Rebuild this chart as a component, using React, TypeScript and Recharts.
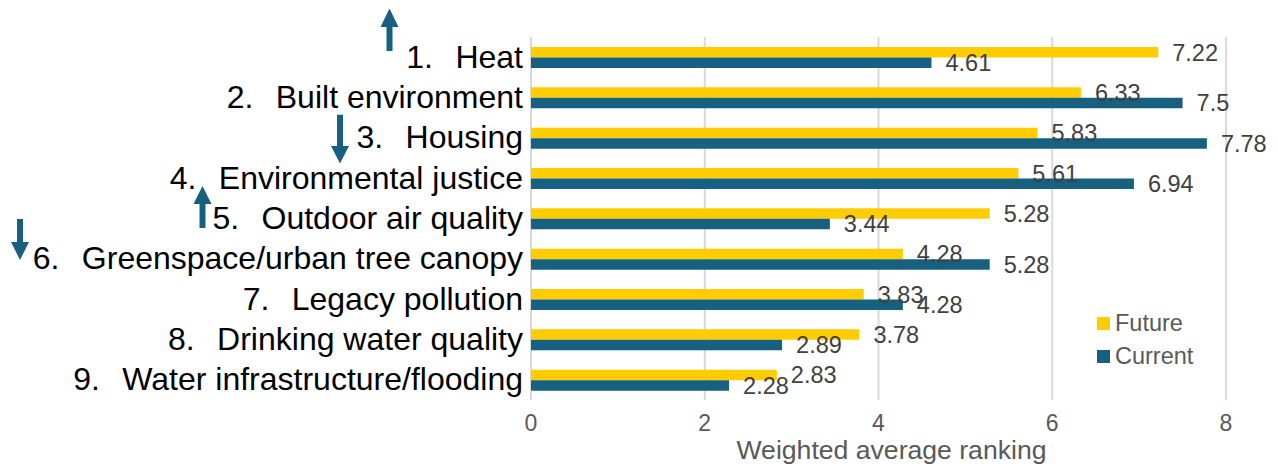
import React from "react";
import { BarChart, Bar, XAxis, YAxis, CartesianGrid, LabelList, Legend } from "recharts";

const categories = [
  "Heat",
  "Built environment",
  "Housing",
  "Environmental justice",
  "Outdoor air quality",
  "Greenspace/urban tree canopy",
  "Legacy pollution",
  "Drinking water quality",
  "Water infrastructure/flooding",
];
const futureValues = [7.22, 6.33, 5.83, 5.61, 5.28, 4.28, 3.83, 3.78, 2.83];
const currentValues = [4.61, 7.5, 7.78, 6.94, 3.44, 5.28, 4.28, 2.89, 2.28];
const xTicks = [0, 2, 4, 6, 8];
const seriesOrder = ["Future", "Current"];

const data = categories.map((name, i) => ({
  name: `${i + 1}.\u2002\u2009${name}`,
  Future: futureValues[i],
  Current: currentValues[i],
}));

const FONT = "'Liberation Sans', Arial, sans-serif";
const YELLOW = "#FFCC00";
const BLUE = "#17607F";

const YTick = (props: any) => {
  const { x, y, payload } = props;
  return (
    <text x={x} y={y} dy={2} textAnchor="end" dominantBaseline="middle" fontSize={32} fill="#000" fontFamily={FONT}>
      {payload.value}
    </text>
  );
};

const LegendContent = (props: any) => {
  const items = [...(props.payload || [])].sort(
    (a: any, b: any) => seriesOrder.indexOf(a.value) - seriesOrder.indexOf(b.value)
  );
  return (
    <div style={{ fontFamily: FONT }}>
      {items.map((it: any) => (
        <div key={it.value} style={{ display: "flex", alignItems: "center", height: 33 }}>
          <div style={{ width: 13, height: 13, background: it.color, marginRight: 5 }} />
          <span style={{ fontSize: 23.5, color: "#595959" }}>{it.value}</span>
        </div>
      ))}
    </div>
  );
};

const arrowPts = (cx: number, tip: number, base: number, end: number) => {
  return [
    [cx, tip],
    [cx + 9, base],
    [cx + 3, base],
    [cx + 3, end],
    [cx - 3, end],
    [cx - 3, base],
    [cx - 9, base],
  ]
    .map((p) => p.join(","))
    .join(" ");
};

export default function App() {
  return (
    <div style={{ position: "absolute", left: 0, top: 0, width: 1278, height: 466, background: "#fff" }}>
      <BarChart
        width={1278}
        height={466}
        data={data}
        layout="vertical"
        margin={{ top: 37, right: 52, bottom: 6, left: 0 }}
        barGap={0}
        barSize={10.5}
        style={{ fontFamily: FONT }}
      >
        <CartesianGrid horizontal={false} vertical={true} stroke="#d9d9d9" strokeWidth={2} />
        <XAxis
          type="number"
          domain={[0, 8]}
          ticks={xTicks}
          axisLine={false}
          tickLine={false}
          height={60}
          tickMargin={9}
          tick={{ fontSize: 23, fill: "#595959", fontFamily: FONT }}
          label={{
            value: "Weighted average ranking",
            position: "insideBottom",
            offset: 1,
            dx: 13,
            fill: "#595959",
            fontSize: 26.6,
            fontFamily: FONT,
          }}
        />
        <YAxis
          type="category"
          dataKey="name"
          width={531}
          axisLine={false}
          tickLine={false}
          tick={<YTick />}
          interval={0}
        />
        <Legend
          layout="vertical"
          verticalAlign="middle"
          align="center"
          content={<LegendContent />}
          wrapperStyle={{ left: 1097, top: 307, width: 120, transform: "none" }}
        />
        <Bar dataKey="Future" fill={YELLOW} isAnimationActive={false}>
          <LabelList dataKey="Future" position="right" offset={14} fill="#404040" fontSize={23.5} fontFamily={FONT} />
        </Bar>
        <Bar dataKey="Current" fill={BLUE} isAnimationActive={false}>
          <LabelList dataKey="Current" position="right" offset={14} fill="#404040" fontSize={23.5} fontFamily={FONT} />
        </Bar>
      </BarChart>
      <svg width={1278} height={466} style={{ position: "absolute", left: 0, top: 0, pointerEvents: "none" }}>
        <polygon points={arrowPts(389.5, 8.6, 27, 51)} fill={BLUE} />
        <polygon points={arrowPts(340, 163.6, 146, 114.7)} fill={BLUE} />
        <polygon points={arrowPts(202.5, 186, 204, 228)} fill={BLUE} />
        <polygon points={arrowPts(20, 260, 242, 219)} fill={BLUE} />
      </svg>
    </div>
  );
}
